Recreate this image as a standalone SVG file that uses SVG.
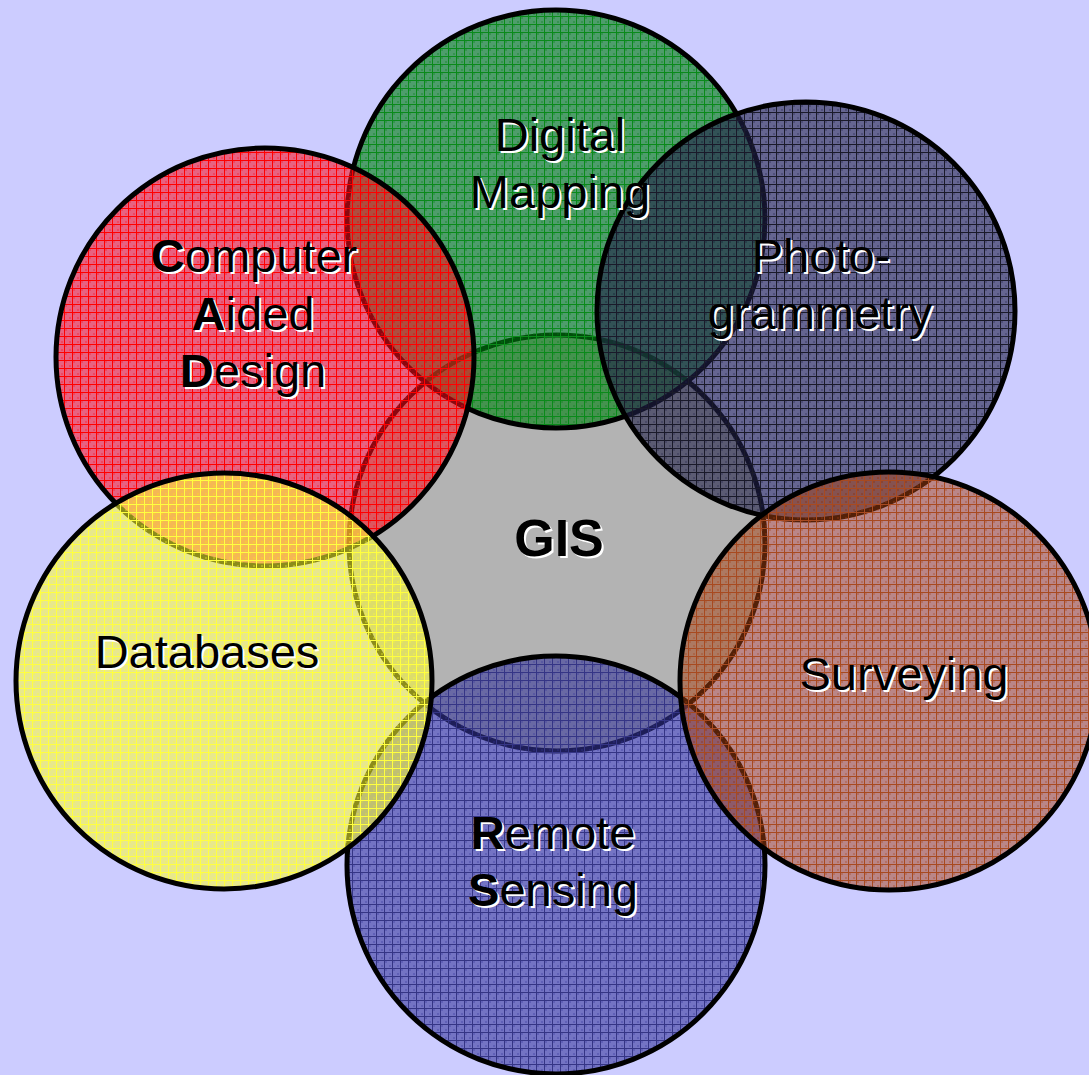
<svg xmlns="http://www.w3.org/2000/svg" width="1089" height="1075" viewBox="0 0 1089 1075">
<defs>
<pattern id="pGreen" patternUnits="userSpaceOnUse" width="8" height="8">
<rect width="8" height="8" fill="#008010" fill-opacity="0.62"/>
<rect x="1" y="1" width="2" height="2" fill="#008010" fill-opacity="0.3"/>
<rect x="5" y="5" width="2" height="2" fill="#008010" fill-opacity="0.3"/>
<rect width="8" height="1" fill="#0a8a1a"/><rect width="1" height="8" fill="#0a8a1a"/>
</pattern>
<pattern id="pRed" patternUnits="userSpaceOnUse" width="8" height="8">
<rect width="8" height="8" fill="#ff0a1a" fill-opacity="0.55"/>
<rect x="1" y="1" width="2" height="2" fill="#ff0a1a" fill-opacity="0.3"/>
<rect x="5" y="5" width="2" height="2" fill="#ff0a1a" fill-opacity="0.3"/>
<rect width="8" height="1" fill="#ff0000"/><rect width="1" height="8" fill="#ff0000"/>
</pattern>
<pattern id="pPhoto" patternUnits="userSpaceOnUse" width="8" height="8">
<rect width="8" height="8" fill="#202048" fill-opacity="0.6"/>
<rect x="1" y="1" width="2" height="2" fill="#202048" fill-opacity="0.3"/>
<rect x="5" y="5" width="2" height="2" fill="#202048" fill-opacity="0.3"/>
<rect width="8" height="1" fill="#1a1a2a"/><rect width="1" height="8" fill="#1a1a2a"/>
</pattern>
<pattern id="pBrown" patternUnits="userSpaceOnUse" width="8" height="8">
<rect width="8" height="8" fill="#a84010" fill-opacity="0.5"/>
<rect x="1" y="1" width="2" height="2" fill="#a84010" fill-opacity="0.3"/>
<rect x="5" y="5" width="2" height="2" fill="#a84010" fill-opacity="0.3"/>
<rect width="8" height="1" fill="#a84a20"/><rect width="1" height="8" fill="#a84a20"/>
</pattern>
<pattern id="pBlue" patternUnits="userSpaceOnUse" width="8" height="8">
<rect width="8" height="8" fill="#333399" fill-opacity="0.58"/>
<rect x="1" y="1" width="2" height="2" fill="#333399" fill-opacity="0.3"/>
<rect x="5" y="5" width="2" height="2" fill="#333399" fill-opacity="0.3"/>
<rect width="8" height="1" fill="#353585"/><rect width="1" height="8" fill="#353585"/>
</pattern>
<pattern id="pYellow" patternUnits="userSpaceOnUse" width="8" height="8">
<rect width="8" height="8" fill="#ffff30" fill-opacity="0.55"/>
<rect x="1" y="1" width="2" height="2" fill="#ffff30" fill-opacity="0.3"/>
<rect x="5" y="5" width="2" height="2" fill="#ffff30" fill-opacity="0.3"/>
<rect width="8" height="1" fill="#ffff40"/><rect width="1" height="8" fill="#ffff40"/>
</pattern>
</defs>
<style>
.c { stroke: #000; stroke-width: 5; }
.t { font-family: "Liberation Sans", Arial, sans-serif; font-size: 47px; text-anchor: middle; }
.sh { fill: #fff; }
.fg { fill: #000; }
.b { font-weight: bold; }
.gis { font-size: 52px; font-weight: bold; }
</style>
<rect width="1089" height="1075" fill="#ccccff"/>
<g id="node-gis">
<circle class="c" cx="557" cy="543" r="208" fill="#b3b3b3"/>
</g>
<g id="node-digital-mapping">
<circle class="c" cx="556" cy="219" r="209" fill="url(#pGreen)"/>
</g>
<g id="node-photogrammetry">
<circle class="c" cx="806" cy="311" r="209" fill="url(#pPhoto)"/>
</g>
<g id="node-remote-sensing">
<circle class="c" cx="556" cy="865" r="209" fill="url(#pBlue)"/>
</g>
<g id="node-surveying">
<circle class="c" cx="889" cy="681" r="209" fill="url(#pBrown)"/>
</g>
<g id="node-cad">
<circle class="c" cx="265" cy="357" r="209" fill="url(#pRed)"/>
</g>
<g id="node-databases">
<circle class="c" cx="224" cy="681" r="208" fill="url(#pYellow)"/>
</g>
<g id="connectors"></g>
<g id="labels">
<g class="t sh" transform="translate(2,2)">
<text x="560" y="151">Digital</text>
<text x="560" y="208">Mapping</text>
<text x="254" y="272"><tspan class="b">C</tspan>omputer</text>
<text x="253" y="330"><tspan class="b">A</tspan>ided</text>
<text x="253" y="387"><tspan class="b">D</tspan>esign</text>
<text x="821" y="272">Photo-</text>
<text x="820" y="329">grammetry</text>
<text class="gis" x="559" y="556">GIS</text>
<text x="207" y="668">Databases</text>
<text x="904" y="690">Surveying</text>
<text x="553" y="849"><tspan class="b">R</tspan>emote</text>
<text x="553" y="906"><tspan class="b">S</tspan>ensing</text>
</g>
<g class="t fg">
<text x="560" y="151">Digital</text>
<text x="560" y="208">Mapping</text>
<text x="254" y="272"><tspan class="b">C</tspan>omputer</text>
<text x="253" y="330"><tspan class="b">A</tspan>ided</text>
<text x="253" y="387"><tspan class="b">D</tspan>esign</text>
<text x="821" y="272">Photo-</text>
<text x="820" y="329">grammetry</text>
<text class="gis" x="559" y="556">GIS</text>
<text x="207" y="668">Databases</text>
<text x="904" y="690">Surveying</text>
<text x="553" y="849"><tspan class="b">R</tspan>emote</text>
<text x="553" y="906"><tspan class="b">S</tspan>ensing</text>
</g>
</g>
</svg>
